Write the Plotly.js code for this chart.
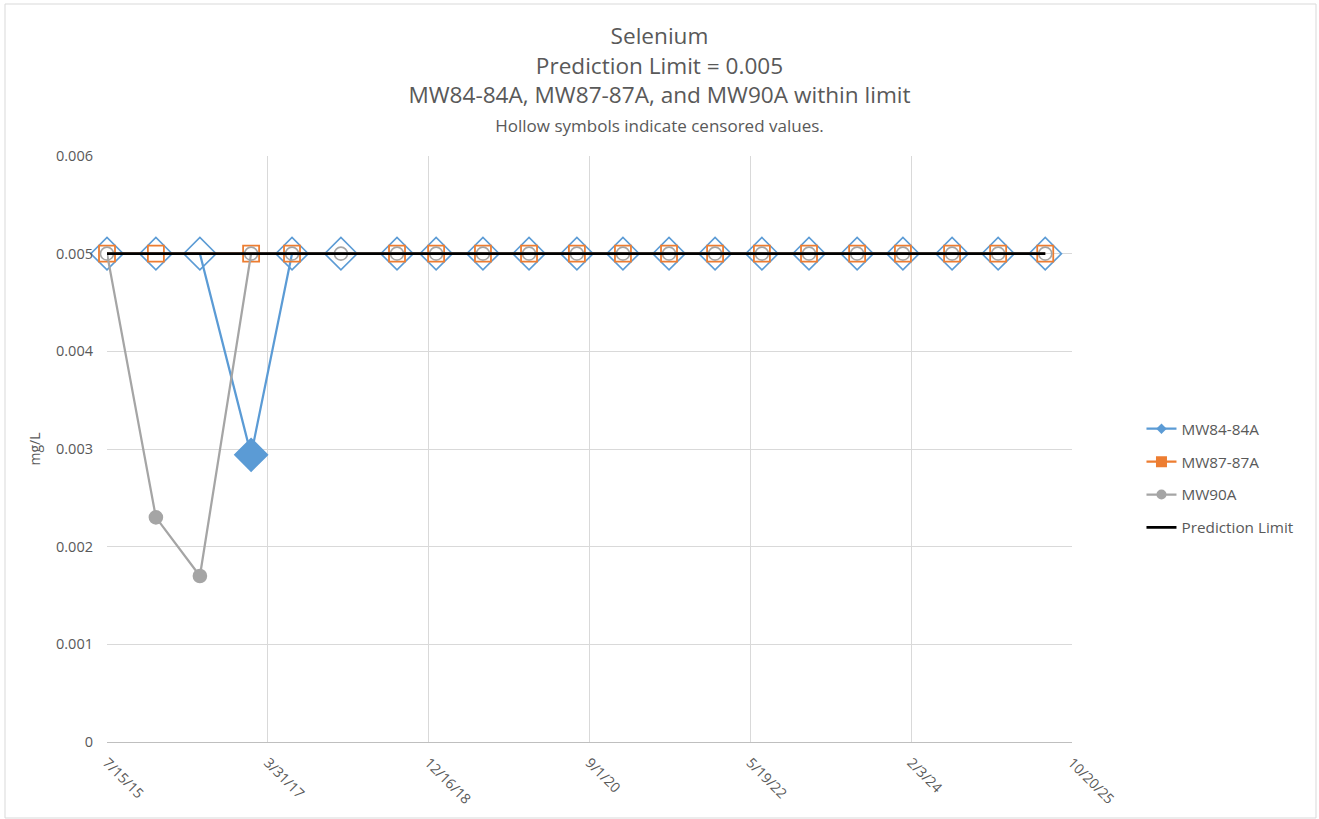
<!DOCTYPE html>
<html>
<head>
<meta charset="utf-8">
<script src="https://cdn.plot.ly/plotly-3.0.1.min.js"></script>
<style>
  html, body { margin: 0; padding: 0; background: #ffffff; }
  #chart { width: 1319px; height: 819px; }
</style>
</head>
<body>
<div id="chart"></div>
<script>
// ---- Data ----
const sampleDates = ['2015-07-15','2016-01-21','2016-07-10','2017-01-25','2017-07-03','2018-01-09',
  '2018-08-15','2019-01-14','2019-07-15','2020-01-10','2020-07-14','2021-01-09','2021-07-07',
  '2022-01-02','2022-07-03','2023-01-02','2023-07-08','2024-01-02','2024-07-11','2025-01-06','2025-07-08'];

const mw84Values   = [0.005,0.005,0.005,0.00294,0.005,0.005,0.005,0.005,0.005,0.005,0.005,0.005,0.005,0.005,0.005,0.005,0.005,0.005,0.005,0.005,0.005];
const mw84Censored = [1,1,1,0,1,1,1,1,1,1,1,1,1,1,1,1,1,1,1,1,1];

const mw87Values   = [0.005,0.005,null,0.005,0.005,null,0.005,0.005,0.005,0.005,0.005,0.005,0.005,0.005,0.005,0.005,0.005,0.005,0.005,0.005,0.005];
const mw87Censored = [1,1,1,1,1,1,1,1,1,1,1,1,1,1,1,1,1,1,1,1,1];

const mw90Values   = [0.005,0.0023,0.0017,0.005,0.005,0.005,0.005,0.005,0.005,0.005,0.005,0.005,0.005,0.005,0.005,0.005,0.005,0.005,0.005,0.005,0.005];
const mw90Censored = [1,0,0,1,1,1,1,1,1,1,1,1,1,1,1,1,1,1,1,1,1];

const predictionLimit = 0.005;

const seriesNames = ['MW84-84A', 'MW87-87A', 'MW90A', 'Prediction Limit'];
const yTickLabels = ['0', '0.001', '0.002', '0.003', '0.004', '0.005', '0.006'];
const yTickValues = [0, 0.001, 0.002, 0.003, 0.004, 0.005, 0.006];

// ---- Styling ----
const FONT = '"Open Sans", "Noto Sans", sans-serif';
const TXT = '#595959';
const BLUE = '#5B9BD5', ORANGE = '#ED7D31', GRAY = '#A5A5A5';

function symbolsFor(base, censored) {
  return censored.map(c => c ? base + '-open' : base);
}

function seriesTrace(name, values, censored, color, symbol, size, mlw) {
  return {
    type: 'scatter', mode: 'lines+markers', name: name, legendgroup: name, showlegend: false,
    x: sampleDates, y: values, connectgaps: true, cliponaxis: false,
    line: { color: color, width: 2.25 },
    marker: { symbol: symbolsFor(symbol, censored), size: size, color: color,
              line: { color: color, width: mlw } },
    hoverinfo: 'x+y+name'
  };
}
function legendTrace(name, color, symbol, size) {
  return {
    type: 'scatter', mode: 'lines+markers', name: name, legendgroup: name, showlegend: true,
    x: [null], y: [null],
    line: { color: color, width: 2.25 },
    marker: { symbol: symbol, size: size, color: color, line: { width: 0 } },
    hoverinfo: 'skip'
  };
}

const traces = [
  seriesTrace(seriesNames[0], mw84Values, mw84Censored, BLUE, 'diamond', 25, 1.6),
  legendTrace(seriesNames[0], BLUE, 'diamond', 8),
  seriesTrace(seriesNames[1], mw87Values, mw87Censored, ORANGE, 'square', 16, 1.8),
  legendTrace(seriesNames[1], ORANGE, 'square', 11),
  seriesTrace(seriesNames[2], mw90Values, mw90Censored, GRAY, 'circle', 13, 1.6),
  legendTrace(seriesNames[2], GRAY, 'circle', 10),
  {
    type: 'scatter', mode: 'lines', name: seriesNames[3], legendgroup: seriesNames[3],
    x: [sampleDates[0], sampleDates[sampleDates.length - 1]],
    y: [predictionLimit, predictionLimit], cliponaxis: false,
    line: { color: '#000000', width: 2.75 },
    hoverinfo: 'y+name'
  }
];

const DAY_MS = 86400000;

const layout = {
  width: 1319, height: 819,
  margin: { l: 107, r: 247, t: 156, b: 77, autoexpand: false },
  paper_bgcolor: '#ffffff', plot_bgcolor: '#ffffff',
  font: { family: FONT, color: TXT, size: 14 },
  title: {
    text: 'Selenium<br>Prediction Limit = 0.005<br>MW84-84A, MW87-87A, and MW90A within limit<br>' +
          '<span style="font-size:17px">Hollow symbols indicate censored values.</span>',
    font: { family: FONT, size: 22.6, color: TXT },
    x: 0.5, xref: 'container', xanchor: 'center',
    y: 0.946, yref: 'container', yanchor: 'top'
  },
  xaxis: {
    type: 'date',
    range: ['2015-07-15', '2025-10-20'],
    tick0: '2015-07-15', dtick: 625 * DAY_MS,
    tickformat: '%-m/%-d/%y', tickangle: 45,
    showgrid: true, gridcolor: '#d9d9d9', gridwidth: 1,
    showline: true, linecolor: '#bfbfbf', linewidth: 1,
    ticks: '', zeroline: false,
    ticklabelstandoff: 6,
    tickfont: { family: FONT, size: 14, color: TXT },
    fixedrange: true
  },
  yaxis: {
    range: [0, 0.006],
    tickmode: 'array', tickvals: yTickValues, ticktext: yTickLabels,
    showgrid: true, gridcolor: '#d9d9d9', gridwidth: 1,
    zeroline: false, showline: false, ticks: '',
    ticklabelstandoff: 13,
    tickfont: { family: FONT, size: 14.5, color: TXT },
    title: { text: 'mg/L', font: { family: FONT, size: 14, color: TXT }, standoff: 12 },
    fixedrange: true
  },
  legend: {
    x: 1.072, xanchor: 'left', y: 0.45, yanchor: 'middle',
    font: { family: FONT, size: 15.3, color: TXT },
    bgcolor: 'rgba(0,0,0,0)', borderwidth: 0,
    tracegroupgap: 10, traceorder: 'grouped'
  },
  shapes: [{
    type: 'rect', xref: 'paper', yref: 'paper', layer: 'below',
    x0: (5 - 107) / 965, x1: (1316 - 107) / 965,
    y0: (742 - 818) / 586, y1: (742 - 4) / 586,
    line: { color: '#d9d9d9', width: 1 }, fillcolor: 'rgba(0,0,0,0)'
  }],
  showlegend: true,
  hovermode: 'closest'
};

Plotly.newPlot('chart', traces, layout, { displayModeBar: false, responsive: false });
</script>
</body>
</html>
